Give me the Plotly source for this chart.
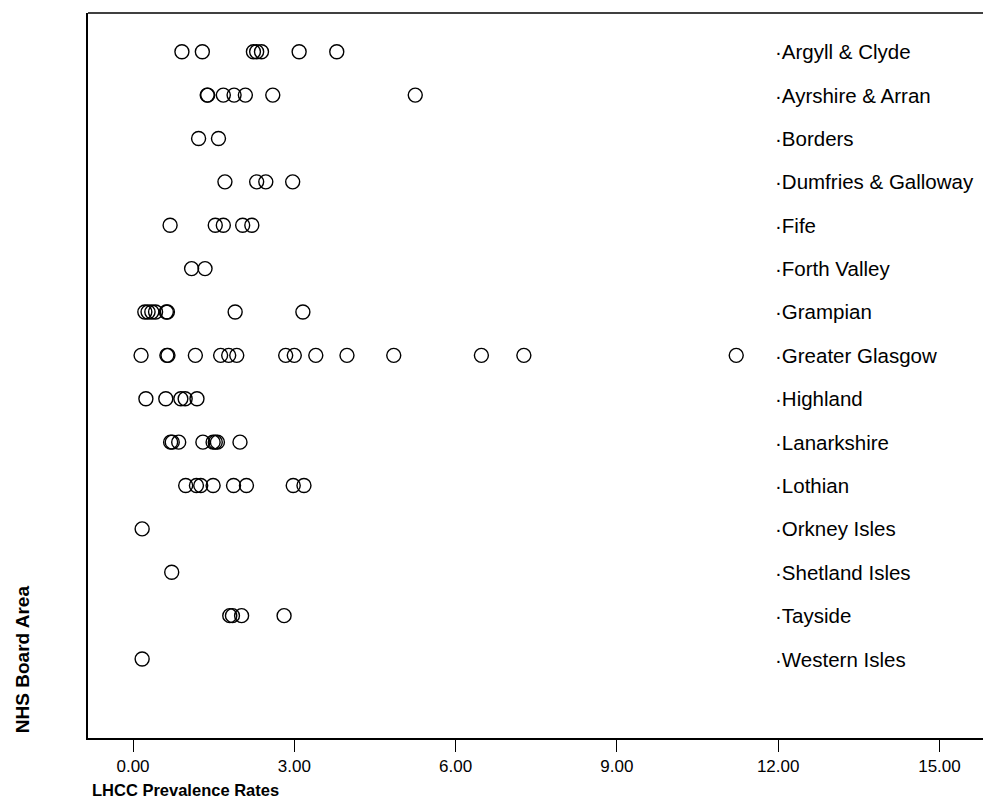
import plotly.graph_objects as go

categories = ["Argyll & Clyde", "Ayrshire & Arran", "Borders", "Dumfries & Galloway",
              "Fife", "Forth Valley", "Grampian", "Greater Glasgow", "Highland",
              "Lanarkshire", "Lothian", "Orkney Isles", "Shetland Isles", "Tayside",
              "Western Isles"]

argyll_clyde = [0.91, 1.29, 2.24, 2.30, 2.39, 3.09, 3.79]
ayrshire_arran = [1.38, 1.39, 1.68, 1.88, 2.09, 2.60, 5.25]
borders = [1.22, 1.59]
dumfries_galloway = [1.71, 2.30, 2.47, 2.97]
fife = [0.69, 1.53, 1.68, 2.04, 2.21]
forth_valley = [1.09, 1.34]
grampian = [0.22, 0.28, 0.35, 0.42, 0.62, 0.64, 1.90, 3.16]
greater_glasgow = [0.15, 0.63, 0.65, 1.16, 1.63, 1.78, 1.93, 2.84, 3.00, 3.40,
                   3.98, 4.85, 6.48, 7.27, 11.22]
highland = [0.24, 0.61, 0.89, 0.97, 1.19]
lanarkshire = [0.70, 0.73, 0.85, 1.30, 1.49, 1.53, 1.57, 1.99]
lothian = [0.98, 1.18, 1.26, 1.49, 1.87, 2.11, 2.98, 3.18]
orkney_isles = [0.17]
shetland_isles = [0.72]
tayside = [1.80, 1.85, 2.02, 2.81]
western_isles = [0.17]

series = [argyll_clyde, ayrshire_arran, borders, dumfries_galloway, fife,
          forth_valley, grampian, greater_glasgow, highland, lanarkshire,
          lothian, orkney_isles, shetland_isles, tayside, western_isles]

tick_values = [0, 3, 6, 9, 12, 15]
tick_labels = ["0.00", "3.00", "6.00", "9.00", "12.00", "15.00"]
label_x = 12

xs, ys = [], []
for cat, vals in zip(categories, series):
    for v in vals:
        xs.append(v)
        ys.append(cat)

FONT = "Arial, Liberation Sans, sans-serif"

fig = go.Figure()
fig.add_trace(go.Scatter(
    x=xs, y=ys, mode="markers",
    marker=dict(symbol="circle-open", size=14, color="black",
                line=dict(width=1.4, color="black")),
    showlegend=False, hoverinfo="x+y",
))

annotations = []
for cat in categories:
    annotations.append(dict(
        x=label_x, y=cat, xref="x", yref="y", text="·" + cat,
        showarrow=False, xanchor="left", yanchor="middle", xshift=-5,
        font=dict(family=FONT, size=20.5, color="black"),
    ))

annotations.append(dict(
    x=0.002, y=-0.072, xref="paper", yref="paper", text="LHCC Prevalence Rates",
    showarrow=False, xanchor="left", yanchor="middle",
    font=dict(family=FONT, size=16.5, color="black", weight="bold"),
))
annotations.append(dict(
    x=-0.0737, y=0.004, xref="paper", yref="paper", text="NHS Board Area",
    showarrow=False, xanchor="center", yanchor="bottom", textangle=-90,
    font=dict(family=FONT, size=19, color="black", weight="bold"),
))

fig.update_layout(
    width=983, height=804,
    margin=dict(l=88, r=0, t=13, b=66),
    paper_bgcolor="white", plot_bgcolor="white",
    annotations=annotations,
    shapes=[dict(type="line", xref="paper", yref="paper", x0=0, x1=1, y0=1, y1=1,
                 line=dict(color="black", width=1.6))],
    xaxis=dict(
        range=[-0.837, 15.81], tickvals=tick_values, ticktext=tick_labels,
        showgrid=False, zeroline=False,
        showline=True, linecolor="black", linewidth=1.6,
        ticks="outside", ticklen=12, tickwidth=1.2, tickcolor="black",
        tickfont=dict(family=FONT, size=17, color="black"),
    ),
    yaxis=dict(
        type="category", categoryorder="array", categoryarray=categories,
        range=[15.82, -0.892],
        showgrid=False, zeroline=False, showticklabels=False, ticks="",
        showline=True, linecolor="black", linewidth=1.6,
    ),
)

fig.write_html("out.html",
               config={"displayModeBar": False},
               post_script="document.body.style.margin='0';"
                           "document.body.style.overflow='hidden';")
